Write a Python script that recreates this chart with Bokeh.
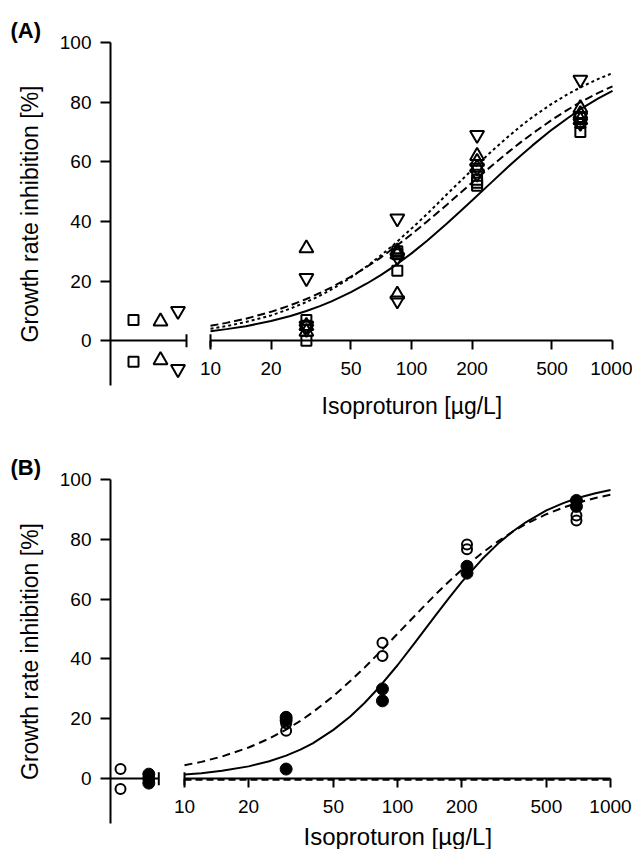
import numpy as np
from bokeh.plotting import figure
from bokeh.layouts import column
from bokeh.models import Range1d, FixedTicker, LogAxis, Title
from bokeh.embed import file_html
from bokeh.resources import INLINE

FONT = "Liberation Sans"

# ---------------- data ----------------
tick_vals = [10, 20, 50, 100, 200, 500, 1000]
tick_labels = ["10", "20", "50", "100", "200", "500", "1000"]
y_ticks = [0, 20, 40, 60, 80, 100]

# Panel A: three series (square, triangle up, triangle down)
a_sq_conc = [30, 30, 30, 85, 85, 85, 212, 212, 212, 692, 692, 692]
a_sq_val = [7, 5, 0, 30, 29, 23.5, 54, 53, 52, 75, 73, 70]
a_up_conc = [30, 30, 30, 85, 85, 85, 212, 212, 212, 692, 692, 692]
a_up_val = [31, 5, 3, 30, 29, 15.5, 62, 60, 58, 78, 76, 74]
a_dn_conc = [30, 30, 30, 85, 85, 85, 212, 212, 212, 692, 692, 692]
a_dn_val = [21, 5, 4, 41, 28, 13.5, 69, 58, 56, 87.5, 75, 73]
a_ctrl_sq = [7, -7]
a_ctrl_up = [6.5, -6.5]
a_ctrl_dn = [10, -9.5]

# Panel B: open and filled circles
b_open_conc = [30, 30, 85, 85, 212, 212, 692, 692]
b_open_val = [18.5, 16, 45.4, 41, 78.3, 76.7, 88, 86.3]
b_fill_conc = [30, 30, 30, 85, 85, 212, 212, 692, 692]
b_fill_val = [20.5, 19.5, 3.2, 30, 26, 71, 68.7, 93, 91]
b_ctrl_open = [3.2, -3.5]
b_ctrl_fill = [1.5, 0, -1.5]

# fitted curves
curve_x = [10, 12, 15, 20, 25, 30, 35, 40, 50, 60, 70, 80, 100, 120, 150, 175, 200,
           250, 300, 350, 400, 500, 600, 700, 850, 1000]
a_solid = [3.2, 3.9, 4.9, 6.6, 8.3, 10.0, 11.6, 13.2, 16.3, 19.2, 21.9, 24.5, 29.3, 33.6,
           39.3, 43.4, 47.0, 53.1, 58.1, 62.1, 65.5, 70.8, 74.7, 77.8, 81.3, 83.8]
a_dash = [5.0, 6.0, 7.4, 9.7, 11.9, 14.0, 16.0, 17.9, 21.5, 24.8, 27.8, 30.7, 35.7, 40.1,
          45.6, 49.6, 53.0, 58.6, 63.0, 66.6, 69.5, 74.1, 77.5, 80.2, 83.1, 85.3]
a_dot = [4.0, 4.9, 6.3, 8.5, 10.8, 13.0, 15.1, 17.2, 21.2, 25.0, 28.5, 31.7, 37.6, 42.6,
         49.1, 53.5, 57.3, 63.5, 68.2, 72.0, 75.0, 79.5, 82.7, 85.1, 87.8, 89.7]
b_solid = [1.4, 1.8, 2.6, 4.1, 5.8, 7.7, 9.7, 11.8, 16.3, 20.8, 25.3, 29.7, 37.9, 45.2,
           54.3, 60.5, 65.7, 73.4, 78.9, 82.8, 85.7, 89.7, 92.1, 93.8, 95.4, 96.5]
b_dash = [4.5, 5.6, 7.4, 10.4, 13.4, 16.4, 19.3, 22.2, 27.6, 32.6, 37.1, 41.3, 48.4, 54.3,
          61.4, 66.0, 69.8, 75.5, 79.6, 82.7, 85.1, 88.4, 90.6, 92.2, 93.8, 94.9]
b_flat_x = [10, 1000]
b_flat = [-0.4, -0.4]


def make_panel(letter, x_start, x_end, brk, frame_w, frame_h, b_top, b_bottom,
               xtitle_offset, xtitle_standoff, xtitle_size):
    p = figure(x_axis_type="log", x_range=Range1d(x_start, x_end), y_range=Range1d(-15, 100),
               frame_width=frame_w, frame_height=frame_h,
               min_border_left=110, min_border_right=0,
               min_border_top=b_top, min_border_bottom=b_bottom,
               output_backend="svg", toolbar_location=None)
    p.outline_line_color = None
    p.xgrid.visible = False
    p.ygrid.visible = False
    p.background_fill_color = "white"
    p.border_fill_color = "white"

    # panel letter
    p.title.text = letter
    p.title.align = "left"
    p.title.offset = -100
    p.title.standoff = 0
    p.title.text_font = FONT
    p.title.text_font_size = "22px"
    p.title.text_font_style = "bold"
    p.title.text_color = "black"

    # y axis
    ya = p.yaxis[0]
    ya.ticker = FixedTicker(ticks=y_ticks)
    ya.axis_line_width = 2
    ya.major_tick_line_width = 2
    ya.major_tick_out = 10
    ya.major_tick_in = 0
    ya.minor_tick_line_color = None
    ya.major_label_text_font = FONT
    ya.major_label_text_font_size = "19px"
    ya.major_label_text_color = "black"
    ya.major_label_standoff = 9
    ya.axis_label = "Growth rate inhibition [%]"
    ya.axis_label_text_font = FONT
    ya.axis_label_text_font_size = "23px"
    ya.axis_label_text_font_style = "normal"
    ya.axis_label_text_color = "black"
    ya.axis_label_standoff = 14

    # x axis on y = 0, limited to 10..1000
    xa = p.xaxis[0]
    xa.fixed_location = 0
    xa.bounds = (10, 1000)
    xa.ticker = FixedTicker(ticks=tick_vals)
    xa.major_label_overrides = {v: t for v, t in zip(tick_vals, tick_labels)}
    xa.axis_line_width = 2
    xa.major_tick_line_width = 2
    xa.major_tick_out = 9
    xa.major_tick_in = 0
    xa.minor_tick_line_color = None
    xa.major_label_text_font = FONT
    xa.major_label_text_font_size = "19px"
    xa.major_label_text_color = "black"
    xa.major_label_standoff = 12

    # control-section axis piece
    ca = LogAxis(fixed_location=0, bounds=(x_start, brk), ticker=FixedTicker(ticks=[]),
                 axis_line_width=2, major_tick_line_color=None, minor_tick_line_color=None,
                 major_label_text_font_size="0px")
    p.add_layout(ca, "below")

    # break bars
    p.scatter(x=[brk, 10], y=[0, 0], marker="dash", angle=np.pi / 2, size=13,
              line_color="black", line_width=2)

    # x title
    t = Title(text="Isoproturon [\u00b5g/L]", align="left", offset=xtitle_offset,
              standoff=xtitle_standoff, text_font=FONT, text_font_size=xtitle_size,
              text_font_style="normal", text_color="black")
    p.add_layout(t, "below")
    return p


# ---------------- Panel A ----------------
xa_start = 10 ** (1 - 100 / 201)
xa_end = 10 ** (3 + 20 / 201)
brk_a = 10 ** (1 - 24 / 201)
pA = make_panel("(A)", xa_start, xa_end, brk_a, 522, 343, 42, 45, 211, 10, "23px")
pA.line(curve_x, a_solid, line_color="black", line_width=2)
pA.line(curve_x, a_dash, line_color="black", line_width=2, line_dash="8 4")
pA.line(curve_x, a_dot, line_color="black", line_width=2, line_dash="3 3")
kw = dict(fill_color=None, line_color="black", line_width=2)
pA.scatter(a_sq_conc, a_sq_val, marker="square", size=10, **kw)
pA.scatter(a_up_conc, a_up_val, marker="triangle", size=14, **kw)
pA.scatter(a_dn_conc, a_dn_val, marker="inverted_triangle", size=14, **kw)
pos_sq = 10 ** (1 - 77 / 201)
pos_up = 10 ** (1 - 50 / 201)
pos_dn = 10 ** (1 - 32.5 / 201)
pA.scatter([pos_sq] * len(a_ctrl_sq), a_ctrl_sq, marker="square", size=10, **kw)
pA.scatter([pos_up] * len(a_ctrl_up), a_ctrl_up, marker="triangle", size=14, **kw)
pA.scatter([pos_dn] * len(a_ctrl_dn), a_ctrl_dn, marker="inverted_triangle", size=14, **kw)

# ---------------- Panel B ----------------
xb_start = 10 ** (1 - 74 / 213)
xb_end = 10 ** (3 + 22 / 213)
brk_b = 10 ** (1 - 25.7 / 213)
pB = make_panel("(B)", xb_start, xb_end, brk_b, 522, 344, 49, 26, 193, -5, "24px")
pB.line(b_flat_x, b_flat, line_color="black", line_width=2, line_dash="7 4")
pB.line(curve_x, b_solid, line_color="black", line_width=2)
pB.line(curve_x, b_dash, line_color="black", line_width=2, line_dash="8 5")
pB.scatter(b_fill_conc, b_fill_val, marker="circle", size=12, fill_color="black", line_color="black")
pB.scatter(b_open_conc, b_open_val, marker="circle", size=10, fill_color=None, line_color="black", line_width=2)
pos_open = 10 ** (1 - 64 / 213)
pos_fill = 10 ** (1 - 35.7 / 213)
pB.scatter([pos_fill] * len(b_ctrl_fill), b_ctrl_fill, marker="circle", size=12, fill_color="black", line_color="black")
pB.scatter([pos_open] * len(b_ctrl_open), b_ctrl_open, marker="circle", size=10, fill_color=None, line_color="black", line_width=2)

layout = column(pA, pB, spacing=0)
open("out.html", "w").write(file_html(layout, INLINE))
